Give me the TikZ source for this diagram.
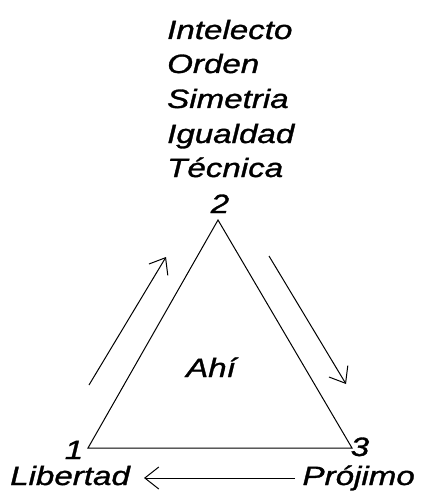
\documentclass[tikz,border=0pt]{standalone}
\usepackage{fontspec}
\setmainfont{Liberation Sans}
\newfontfamily\lblfont[FakeStretch=1.25,FakeBold=1.2]{Liberation Sans}
\usetikzlibrary{arrows.meta}
\begin{document}
\begin{tikzpicture}[x=1pt,y=-1pt,
  lbl/.style={font=\lblfont\itshape\fontsize{26.5}{30}\selectfont, inner sep=0pt},
  edge/.style={line width=1pt},
  flow/.style={line width=1pt, -{Straight Barb[length=14pt,width=22pt]}}]
\useasboundingbox (0,0) rectangle (425,492);
\coordinate (v1) at (88,448);
\coordinate (v2) at (218,220);
\coordinate (v3) at (352,448);
\draw[edge] (v1) -- (v2) -- (v3) -- cycle;
\node[lbl, anchor=base west] (t1) at (167,39) {Intelecto};
\node[lbl, anchor=base west] (t2) at (167,73) {Orden};
\node[lbl, anchor=base west] (t3) at (167,108) {Simetria};
\node[lbl, anchor=base west] (t4) at (167,143) {Igualdad};
\node[lbl, anchor=base west] (t5) at (167,177) {Técnica};
\node[lbl, anchor=base] (n2) at (220,213) {2};
\node[lbl, anchor=base] (n1) at (74,459) {1};
\node[lbl, anchor=base] (n3) at (360,456) {3};
\node[lbl, anchor=base] (ahi) at (211,377) {Ahí};
\node[lbl, anchor=base west] (lib) at (10,485) {Libertad};
\node[lbl, anchor=base east] (pro) at (415,485) {Prójimo};
\coordinate (a1s) at (89,385); \coordinate (a1e) at (166,257);
\coordinate (a2s) at (269,256); \coordinate (a2e) at (346,384);
\coordinate (bs) at (295,478); \coordinate (be) at (144,478);
\draw[flow] (a1s) -- (a1e);
\draw[flow] (a2s) -- (a2e);
\draw[flow] (bs) -- (be);
\end{tikzpicture}
\end{document}
